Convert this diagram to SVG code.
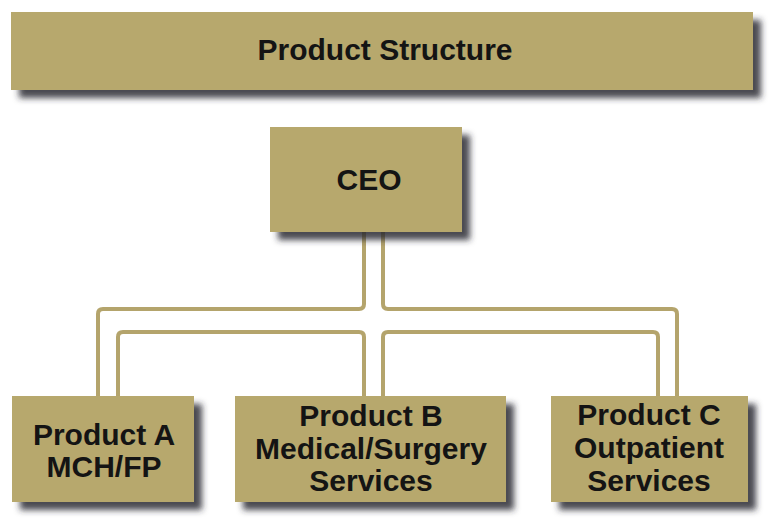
<svg xmlns="http://www.w3.org/2000/svg" width="774" height="521" viewBox="0 0 774 521">
<defs>
<filter id="sh" x="-10%" y="-20%" width="130%" height="150%">
<feDropShadow dx="8" dy="8" stdDeviation="3" flood-color="#2a2a30" flood-opacity="0.85"/>
</filter>
</defs>
<style>
.box{fill:#b7a86d;filter:url(#sh)}
.t{font-family:"Liberation Sans",Arial,sans-serif;font-weight:bold;font-size:30px;fill:#141414;text-anchor:middle}
.c{fill:none;stroke:#b4a46c;stroke-width:4;stroke-linejoin:round}
</style>
<rect width="774" height="521" fill="#ffffff"/>
<g id="connectors">
<path class="c" d="M364,232 V304 Q364,309 359,309 H103 Q98,309 98,314 V397"/>
<path class="c" d="M383,232 V304 Q383,309 388,309 H672 Q677,309 677,314 V397"/>
<path class="c" d="M118,397 V337 Q118,332 123,332 H359 Q364,332 364,337 V397"/>
<path class="c" d="M383,397 V337 Q383,332 388,332 H653 Q658,332 658,337 V397"/>
</g>
<g id="title">
<rect class="box" x="11" y="12" width="742" height="78"/>
<text class="t" x="385" y="60" font-size="31">Product Structure</text>
</g>
<g id="ceo">
<rect class="box" x="270" y="127" width="192" height="105"/>
<text class="t" x="369" y="190">CEO</text>
</g>
<g id="productA">
<rect class="box" x="12" y="396" width="182" height="106"/>
<text class="t" x="104" y="445">Product A</text>
<text class="t" x="104" y="477">MCH/FP</text>
</g>
<g id="productB">
<rect class="box" x="235" y="396" width="271" height="106"/>
<text class="t" x="371" y="426">Product B</text>
<text class="t" x="371" y="459">Medical/Surgery</text>
<text class="t" x="371" y="491">Services</text>
</g>
<g id="productC">
<rect class="box" x="551" y="396" width="197" height="106"/>
<text class="t" x="649" y="425">Product C</text>
<text class="t" x="649" y="458">Outpatient</text>
<text class="t" x="649" y="491">Services</text>
</g>
</svg>
